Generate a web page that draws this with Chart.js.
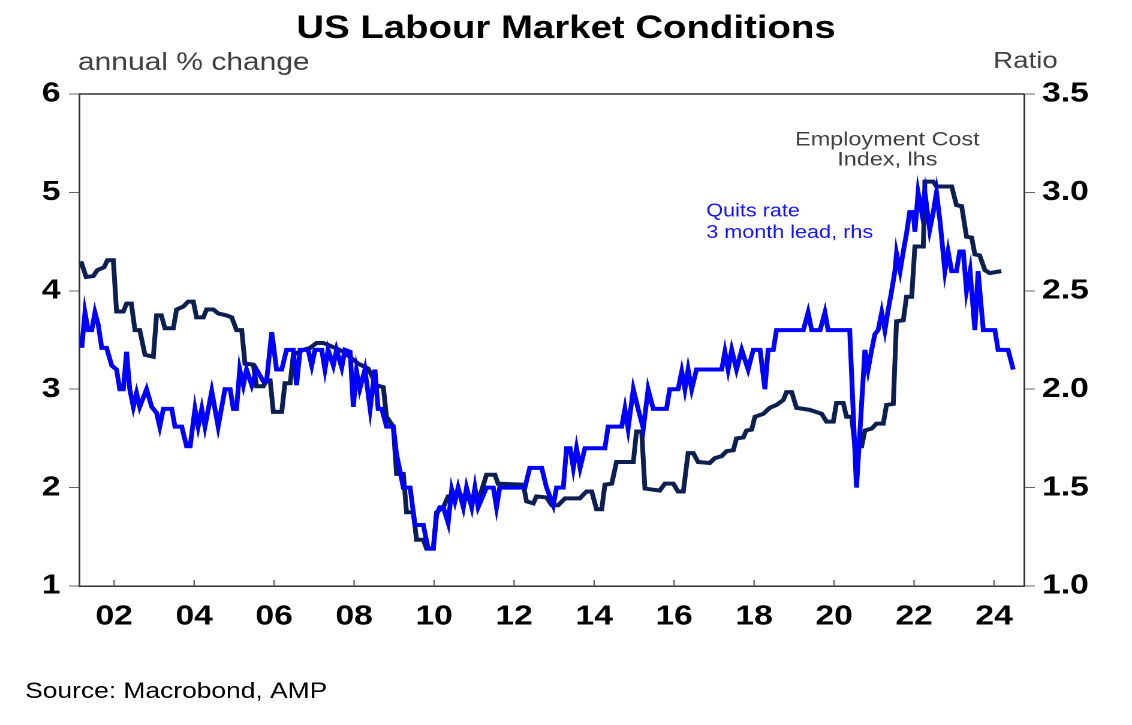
<!DOCTYPE html>
<html>
<head>
<meta charset="utf-8">
<script src="https://cdn.jsdelivr.net/npm/chart.js@4.4.1/dist/chart.umd.min.js"></script>
<style>
html,body{margin:0;padding:0;background:#fff;overflow:hidden;}
#wrap{width:944px;height:725px;position:relative;transform:scaleX(1.19915);transform-origin:0 0;}
</style>
</head>
<body>
<div id="wrap"><canvas id="chart"></canvas></div>
<script>
// Employment Cost Index, annual % change (lhs)
const eciYears = [2001.17,2001.30,2001.48,2001.58,2001.75,2001.83,2001.98,2002.06,2002.23,2002.31,
  2002.43,2002.52,2002.64,2002.77,2002.98,2003.06,2003.18,2003.27,2003.48,2003.56,
  2003.73,2003.85,2003.98,2004.06,2004.23,2004.31,2004.48,2004.60,2004.81,2004.94,
  2005.06,2005.19,2005.27,2005.48,2005.56,2005.73,2005.81,2005.90,2005.98,2006.19,
  2006.27,2006.40,2006.48,2006.73,2006.90,2007.06,2007.23,2007.35,2007.52,2007.73,
  2007.98,2008.10,2008.35,2008.56,2008.73,2008.81,2008.98,2009.06,2009.23,2009.31,
  2009.48,2009.56,2009.73,2009.81,2009.98,2010.06,2010.23,2010.35,2010.73,2010.89,
  2011.14,2011.31,2011.52,2011.60,2012.23,2012.31,2012.48,2012.56,2012.81,2012.94,
  2013.10,2013.27,2013.64,2013.81,2013.94,2014.06,2014.19,2014.27,2014.44,2014.56,
  2014.98,2015.06,2015.19,2015.27,2015.64,2015.77,2015.98,2016.10,2016.23,2016.35,
  2016.48,2016.60,2016.89,2017.02,2017.19,2017.31,2017.48,2017.56,2017.73,2017.81,
  2017.94,2018.02,2018.23,2018.39,2018.56,2018.73,2018.81,2018.94,2019.06,2019.39,
  2019.69,2019.81,2019.98,2020.06,2020.23,2020.31,2020.44,2020.52,2020.69,2020.77,
  2020.94,2021.06,2021.23,2021.31,2021.48,2021.56,2021.73,2021.81,2021.94,2022.02,
  2022.23,2022.27,2022.48,2022.56,2022.94,2023.06,2023.19,2023.31,2023.44,2023.52,
  2023.64,2023.77,2023.89,2024.18];
const eciValues = [4.30,4.14,4.15,4.21,4.24,4.31,4.31,3.79,3.79,3.87,
  3.87,3.60,3.60,3.35,3.33,3.75,3.75,3.62,3.62,3.81,
  3.84,3.89,3.89,3.73,3.73,3.81,3.81,3.77,3.75,3.73,
  3.60,3.60,3.26,3.25,3.03,3.03,3.09,3.09,2.77,2.77,
  3.06,3.06,3.35,3.40,3.42,3.47,3.47,3.45,3.42,3.38,
  3.30,3.26,3.21,3.04,3.02,2.72,2.62,2.14,2.14,1.75,
  1.75,1.47,1.47,1.38,1.38,1.75,1.80,1.91,1.92,1.87,
  1.91,2.13,2.13,2.04,2.03,1.86,1.84,1.91,1.90,1.82,
  1.82,1.89,1.89,1.96,1.96,1.78,1.78,2.03,2.04,2.26,
  2.26,2.57,2.57,1.99,1.97,2.04,2.04,1.96,1.96,2.35,
  2.35,2.26,2.25,2.30,2.32,2.37,2.38,2.50,2.51,2.58,
  2.59,2.72,2.75,2.81,2.84,2.89,2.97,2.97,2.81,2.79,
  2.75,2.67,2.67,2.86,2.86,2.72,2.72,2.42,2.42,2.58,
  2.60,2.65,2.65,2.84,2.85,3.69,3.70,3.94,3.94,4.45,
  4.45,5.11,5.11,5.06,5.06,4.87,4.86,4.55,4.54,4.37,
  4.36,4.21,4.18,4.20];

// Quits rate, 3 month lead, ratio (rhs)
const quitsYears = [2001.19,2001.27,2001.35,2001.44,2001.52,2001.60,2001.69,2001.81,2001.94,2002.06,
  2002.14,2002.23,2002.31,2002.39,2002.48,2002.56,2002.64,2002.81,2002.94,2003.06,
  2003.14,2003.23,2003.44,2003.52,2003.69,2003.81,2003.90,2004.02,2004.10,2004.19,
  2004.27,2004.44,2004.60,2004.77,2004.90,2004.98,2005.06,2005.14,2005.23,2005.31,
  2005.44,2005.56,2005.73,2005.81,2005.94,2006.06,2006.19,2006.31,2006.48,2006.56,
  2006.65,2006.85,2006.94,2007.02,2007.19,2007.27,2007.35,2007.48,2007.56,2007.69,
  2007.77,2007.90,2007.98,2008.06,2008.14,2008.27,2008.40,2008.52,2008.60,2008.69,
  2008.81,2008.98,2009.06,2009.23,2009.40,2009.52,2009.73,2009.85,2009.98,2010.06,
  2010.14,2010.23,2010.35,2010.44,2010.52,2010.60,2010.73,2010.81,2010.94,2011.02,
  2011.10,2011.31,2011.48,2011.56,2011.64,2012.27,2012.39,2012.69,2012.81,2012.98,
  2013.06,2013.23,2013.31,2013.40,2013.48,2013.56,2013.65,2013.77,2014.27,2014.35,
  2014.69,2014.77,2014.85,2014.98,2015.10,2015.23,2015.35,2015.48,2015.81,2015.89,
  2016.10,2016.19,2016.27,2016.35,2016.44,2016.56,2017.19,2017.27,2017.35,2017.44,
  2017.56,2017.69,2017.85,2017.98,2018.15,2018.27,2018.35,2018.48,2018.56,2019.23,
  2019.35,2019.44,2019.65,2019.77,2019.85,2020.39,2020.56,2020.77,2020.85,2020.94,
  2021.02,2021.10,2021.19,2021.27,2021.35,2021.43,2021.52,2021.56,2021.65,2021.73,
  2021.81,2021.89,2021.98,2022.02,2022.10,2022.19,2022.27,2022.39,2022.48,2022.56,
  2022.65,2022.77,2022.85,2022.94,2023.06,2023.14,2023.23,2023.31,2023.40,2023.52,
  2023.60,2023.73,2024.02,2024.10,2024.35,2024.48];
const quitsValues = [2.21,2.39,2.30,2.30,2.39,2.33,2.21,2.21,2.12,2.10,
  2.00,2.00,2.19,2.00,1.91,1.98,1.91,2.00,1.91,1.88,
  1.81,1.90,1.90,1.81,1.81,1.71,1.71,1.90,1.81,1.90,
  1.81,1.99,1.81,2.00,2.00,1.90,1.90,2.10,2.02,2.10,
  2.02,2.10,2.04,2.04,2.29,2.10,2.10,2.20,2.20,2.02,
  2.20,2.20,2.12,2.20,2.20,2.10,2.20,2.12,2.20,2.11,
  2.20,2.19,1.91,2.09,2.00,2.10,1.90,2.10,1.90,1.90,
  1.81,1.81,1.67,1.50,1.50,1.31,1.31,1.19,1.19,1.36,
  1.40,1.40,1.32,1.49,1.43,1.50,1.40,1.50,1.40,1.50,
  1.40,1.50,1.50,1.40,1.50,1.50,1.60,1.60,1.50,1.41,
  1.50,1.50,1.70,1.70,1.60,1.70,1.60,1.70,1.70,1.81,
  1.81,1.90,1.80,2.00,1.90,1.80,2.00,1.90,1.90,2.00,
  2.00,2.09,2.00,2.10,2.00,2.10,2.10,2.19,2.10,2.20,
  2.10,2.20,2.10,2.20,2.20,2.00,2.20,2.20,2.30,2.30,
  2.39,2.30,2.30,2.39,2.30,2.30,1.50,2.20,2.10,2.20,
  2.28,2.30,2.39,2.30,2.40,2.49,2.60,2.69,2.60,2.70,
  2.79,2.90,2.90,2.80,3.00,2.90,3.00,2.81,2.90,3.00,
  2.85,2.60,2.70,2.60,2.60,2.70,2.70,2.50,2.60,2.30,
  2.60,2.30,2.30,2.20,2.20,2.10];

const xTickYears = [2002,2004,2006,2008,2010,2012,2014,2016,2018,2020,2022,2024];
const leftTicks = [1,2,3,4,5,6];
const rightTicks = [1.0,1.5,2.0,2.5,3.0,3.5];

Chart.defaults.font.family = "'Liberation Sans', Arial, sans-serif";

const toPoints = (xs, ys) => xs.map((x, i) => ({x: x, y: ys[i]}));
const tickFont = {size: 28, weight: 'bold'};

// titles, annotations, top frame line and the inward x ticks
const decorations = {
  id: 'decorations',
  afterDraw(chart) {
    const {ctx, chartArea: a, scales} = chart;
    ctx.save();
    ctx.strokeStyle = '#333';
    ctx.lineWidth = 1.5;
    ctx.beginPath();
    ctx.moveTo(a.left, a.top);
    ctx.lineTo(a.right, a.top);
    ctx.stroke();

    ctx.strokeStyle = '#666';
    ctx.lineWidth = 1.2;
    xTickYears.forEach(v => {
      const px = scales.x.getPixelForValue(v);
      ctx.beginPath();
      ctx.moveTo(px, a.bottom);
      ctx.lineTo(px, a.bottom - 6);
      ctx.stroke();
    });

    ctx.textBaseline = 'alphabetic';
    ctx.fillStyle = '#000';
    ctx.textAlign = 'center';
    ctx.font = "bold 32px 'Liberation Sans', Arial, sans-serif";
    ctx.fillText('US Labour Market Conditions', chart.width / 2, 38);

    ctx.fillStyle = '#404040';
    ctx.textAlign = 'left';
    ctx.font = "25px 'Liberation Sans', Arial, sans-serif";
    ctx.fillText('annual % change', a.left - 1, 70);
    ctx.textAlign = 'right';
    ctx.font = "23px 'Liberation Sans', Arial, sans-serif";
    ctx.fillText('Ratio', 882, 68);

    ctx.textAlign = 'center';
    ctx.font = "19.5px 'Liberation Sans', Arial, sans-serif";
    ctx.fillText('Employment Cost', 740, 145.5);
    ctx.fillText('Index, lhs', 740, 165.5);

    ctx.fillStyle = '#1414ff';
    ctx.textAlign = 'left';
    ctx.font = "18px 'Liberation Sans', Arial, sans-serif";
    ctx.fillText('Quits rate', 589, 216.5);
    ctx.fillText('3 month lead, rhs', 589, 238);

    ctx.fillStyle = '#000';
    ctx.font = "22px 'Liberation Sans', Arial, sans-serif";
    ctx.fillText('Source: Macrobond, AMP', 21, 698);
    ctx.restore();
  }
};

new Chart(document.getElementById('chart'), {
  type: 'line',
  data: {
    datasets: [
      {
        label: 'Quits rate, 3 month lead, rhs',
        data: toPoints(quitsYears, quitsValues),
        yAxisID: 'y2',
        borderColor: '#0000ff',
        borderWidth: 4,
        pointRadius: 0,
        tension: 0
      },
      {
        label: 'Employment Cost Index, lhs',
        data: toPoints(eciYears, eciValues),
        yAxisID: 'y',
        borderColor: '#0d1f4f',
        borderWidth: 4,
        pointRadius: 0,
        tension: 0
      }
    ]
  },
  options: {
    responsive: true,
    maintainAspectRatio: false,
    animation: false,
    devicePixelRatio: 2,
    layout: {padding: {top: 94, left: 0, right: 0, bottom: 0}},
    plugins: {legend: {display: false}, tooltip: {enabled: false}},
    scales: {
      x: {
        type: 'linear',
        min: 2001.125,
        max: 2024.75,
        afterBuildTicks: s => { s.ticks = xTickYears.map(v => ({value: v})); },
        afterFit: s => { s.height = 139; },
        ticks: {
          callback: v => String(v % 100).padStart(2, '0'),
          font: tickFont,
          color: '#000',
          padding: 14,
          maxRotation: 0,
          autoSkip: false
        },
        grid: {drawOnChartArea: false, drawTicks: false},
        border: {color: '#333', width: 1.5}
      },
      y: {
        position: 'left',
        min: 1,
        max: 6,
        afterBuildTicks: s => { s.ticks = leftTicks.map(v => ({value: v})); },
        afterFit: s => { s.width = 66; },
        ticks: {font: tickFont, color: '#000', padding: 7},
        grid: {drawOnChartArea: false, tickLength: 8.5, tickColor: '#666'},
        border: {color: '#333', width: 1.5}
      },
      y2: {
        position: 'right',
        min: 1,
        max: 3.5,
        afterBuildTicks: s => { s.ticks = rightTicks.map(v => ({value: v})); },
        afterFit: s => { s.width = 90; },
        ticks: {font: tickFont, color: '#000', padding: 6, callback: v => v.toFixed(1)},
        grid: {drawOnChartArea: false, tickLength: 9, tickColor: '#666'},
        border: {color: '#333', width: 1.5}
      }
    }
  },
  plugins: [decorations]
});
</script>
</body>
</html>
